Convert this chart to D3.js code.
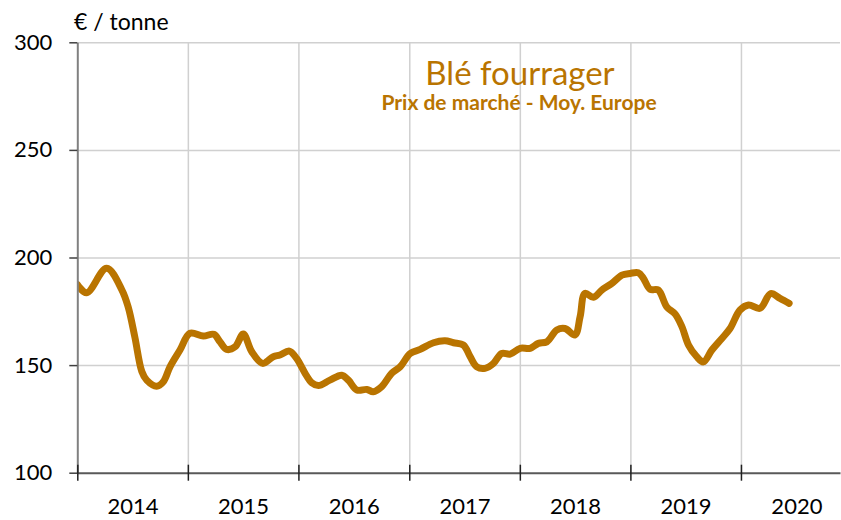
<!DOCTYPE html>
<html>
<head>
<meta charset="utf-8">
<script src="https://cdn.jsdelivr.net/npm/d3@7"></script>
<style>
  body { margin: 0; background: #fff; }
  svg { display: block; font-family: Lato, "Open Sans", sans-serif; }
  .grid line { stroke: #d0d0d0; stroke-width: 1.5; }
  .grid path { display: none; }
</style>
</head>
<body>
<svg id="chart" width="841" height="520"></svg>
<script>
// weekly-ish readings of the market price, € / tonne
var dates = [
  '2014-01-01', '2014-02-01', '2014-04-08', '2014-05-28', '2014-06-18', '2014-07-10',
  '2014-08-02', '2014-08-18', '2014-09-20', '2014-10-12', '2014-11-03', '2014-12-06',
  '2015-01-08', '2015-02-21', '2015-03-28', '2015-04-17', '2015-05-09', '2015-06-06',
  '2015-07-03', '2015-07-31', '2015-09-05', '2015-10-10', '2015-11-01', '2015-12-02',
  '2015-12-26', '2016-01-23', '2016-02-14', '2016-03-07', '2016-04-14', '2016-05-23',
  '2016-06-14', '2016-07-12', '2016-08-14', '2016-09-04', '2016-10-02', '2016-11-04',
  '2016-12-02', '2017-01-04', '2017-02-06', '2017-03-22', '2017-04-29', '2017-05-27',
  '2017-06-29', '2017-07-21', '2017-08-12', '2017-09-08', '2017-10-06', '2017-11-02',
  '2017-11-30', '2018-01-02', '2018-02-04', '2018-03-03', '2018-03-31', '2018-05-03',
  '2018-05-30', '2018-07-02', '2018-07-19', '2018-08-04', '2018-09-01', '2018-09-29',
  '2018-11-01', '2018-12-04', '2018-12-31', '2019-01-27', '2019-02-13', '2019-03-07',
  '2019-04-03', '2019-05-01', '2019-05-29', '2019-06-20', '2019-07-12', '2019-08-08',
  '2019-08-30', '2019-09-27', '2019-10-30', '2019-11-26', '2019-12-29', '2020-01-26',
  '2020-03-04', '2020-04-08', '2020-05-09', '2020-06-08'
];
var prices = [
  187.5, 183.6, 195, 185, 177, 163,
  147, 143, 140.2, 142.3, 149.2, 157,
  164.8, 163.5, 164.3, 160.8, 157.3, 158.5,
  164.4, 156.2, 150.8, 153.9, 154.7, 156.5,
  153.1, 146.2, 141.8, 140.5, 143, 145.3,
  143, 138.4, 138.7, 137.6, 140, 146.2,
  149.2, 155.4, 157.3, 160.4, 161.3, 160.4,
  159.3, 153.9, 149.2, 148.5, 150.8, 155.4,
  155.1, 157.8, 157.8, 160.1, 160.8, 166.3,
  167, 164, 172.5, 183.3, 181.5, 184.9,
  188, 191.8, 192.6, 192.9, 190.3, 185.2,
  184.9, 177.1, 173.7, 167.9, 159.3, 153.9,
  151.5, 157, 162.4, 167, 175.6, 177.9,
  176.4, 183.2, 181, 178.7
];
var years = ['2014', '2015', '2016', '2017', '2018', '2019', '2020'];
var yTicks = [100, 150, 200, 250, 300];

var color = '#b97400';
var parse = d3.timeParse('%Y-%m-%d');
var ds = dates.map(function(d, i) {
  return { date: parse(d), value: prices[i] };
});

var svg = d3.select('#chart');
var m = { left: 77.3, right: 840, top: 42.3, bottom: 472.7 };

var x = d3.scaleTime()
  .domain([parse('2014-01-01'), parse('2020-11-23')])
  .range([m.left, m.right]);
var y = d3.scaleLinear()
  .domain([100, 300])
  .range([m.bottom, m.top]);

var yearStarts = years.map(function(t) { return parse(t + '-01-01'); });
var yearMids = years.map(function(t) { return parse(t + '-07-02'); });

// grid
svg.append('g')
  .attr('class', 'grid')
  .attr('transform', 'translate(' + m.left + ',0)')
  .call(d3.axisLeft(y).tickValues(yTicks.slice(1)).tickSize(-(m.right - m.left)).tickFormat(''));
svg.append('g')
  .attr('class', 'grid')
  .attr('transform', 'translate(0,' + m.bottom + ')')
  .call(d3.axisBottom(x).tickValues(yearStarts.slice(1)).tickSize(-(m.bottom - m.top)).tickFormat(''));

// clip so the thick line stops at the left axis
svg.append('clipPath')
  .attr('id', 'plot-clip')
  .append('rect')
  .attr('x', m.left)
  .attr('y', 0)
  .attr('width', m.right - m.left)
  .attr('height', 520);

// price line
var line = d3.line()
  .x(function(d) { return x(d.date); })
  .y(function(d) { return y(d.value); })
  .curve(d3.curveCatmullRom.alpha(0.5));

svg.append('path')
  .datum(ds)
  .attr('clip-path', 'url(#plot-clip)')
  .attr('fill', 'none')
  .attr('stroke', color)
  .attr('stroke-width', 7)
  .attr('stroke-linecap', 'round')
  .attr('stroke-linejoin', 'round')
  .attr('d', line);

// y axis
var yAxis = svg.append('g')
  .attr('transform', 'translate(' + m.left + ',0)')
  .call(d3.axisLeft(y).tickValues(yTicks).tickSize(8).tickPadding(17).tickSizeOuter(0));
yAxis.select('.domain').attr('stroke', '#808080').attr('stroke-width', 2);
yAxis.selectAll('.tick line').attr('stroke', '#404040').attr('stroke-width', 1.5);
yAxis.selectAll('.tick text').attr('font-size', 22).attr('fill', '#000')
  .attr('font-family', 'Lato, sans-serif');

// x axis: boundary ticks crossing the axis line
var xAxis = svg.append('g')
  .attr('transform', 'translate(0,' + m.bottom + ')')
  .call(d3.axisBottom(x).tickValues(yearStarts).tickSize(8).tickFormat('').tickSizeOuter(0));
xAxis.select('.domain').attr('stroke', '#595959').attr('stroke-width', 2);
xAxis.selectAll('.tick line').attr('y1', -8).attr('stroke', '#202020').attr('stroke-width', 1.5);

var xLabels = svg.append('g')
  .attr('transform', 'translate(0,' + m.bottom + ')')
  .call(d3.axisBottom(x).tickValues(yearMids).tickSize(0).tickPadding(26)
    .tickFormat(d3.timeFormat('%Y')));
xLabels.select('.domain').remove();
xLabels.selectAll('.tick text').attr('font-size', 22).attr('fill', '#000')
  .attr('font-family', 'Lato, sans-serif');

// labels
svg.append('text')
  .attr('x', 74)
  .attr('y', 30)
  .attr('font-size', 23)
  .text('€ / tonne');

svg.append('text')
  .attr('x', 520)
  .attr('y', 85)
  .attr('text-anchor', 'middle')
  .attr('font-size', 33)
  .attr('fill', color)
  .text('Blé fourrager');

svg.append('text')
  .attr('x', 519)
  .attr('y', 110)
  .attr('text-anchor', 'middle')
  .attr('font-size', 21)
  .attr('font-weight', 'bold')
  .attr('fill', color)
  .text('Prix de marché - Moy. Europe');
</script>
</body>
</html>
